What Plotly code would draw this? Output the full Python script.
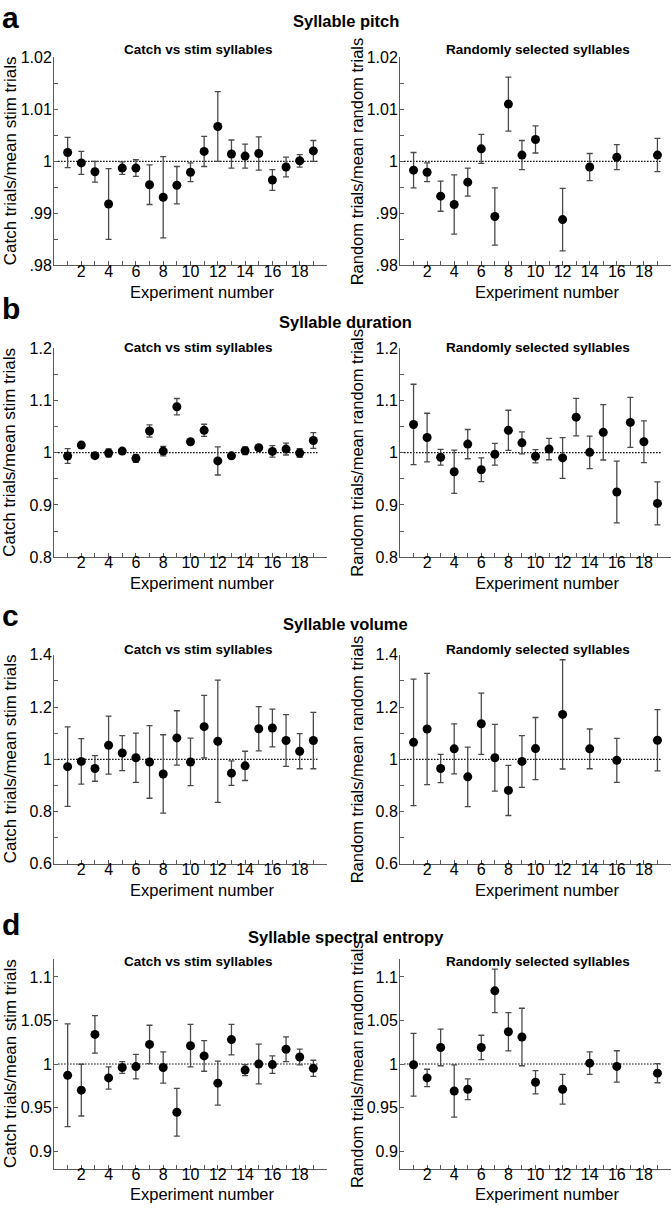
import plotly.graph_objects as go

# ---------------- data ----------------
exp_all = list(range(1, 20))
exp_sub = [1, 2, 3, 4, 5, 6, 7, 8, 9, 10, 12, 14, 16, 19]

pitch_catch_mean = [1.0017, 0.9997, 0.9980, 0.9918, 0.9987, 0.9987, 0.9955, 0.9931, 0.9954, 0.9979,
                    1.0019, 1.0067, 1.0014, 1.0010, 1.0015, 0.9964, 0.9989, 1.0001, 1.0020]
pitch_catch_err = [0.0029, 0.0022, 0.0020, 0.0068, 0.0012, 0.0016, 0.0038, 0.0078, 0.0036, 0.0018,
                   0.0029, 0.0067, 0.0027, 0.0023, 0.0032, 0.0020, 0.0019, 0.0012, 0.0020]
pitch_rand_mean = [0.9983, 0.9979, 0.9933, 0.9917, 0.9960, 1.0024, 0.9894, 1.0110, 1.0012, 1.0042,
                   0.9888, 0.9989, 1.0008, 1.0012]
pitch_rand_err = [0.0034, 0.0018, 0.0029, 0.0057, 0.0027, 0.0028, 0.0055, 0.0052, 0.0028, 0.0026,
                  0.0060, 0.0026, 0.0024, 0.0032]

duration_catch_mean = [0.9937, 1.0145, 0.9943, 0.9994, 1.0030, 0.9890, 1.0415, 1.0030, 1.0880, 1.0210,
                       1.0428, 0.9843, 0.9940, 1.0038, 1.0094, 1.0025, 1.0069, 0.9994, 1.0233]
duration_catch_err = [0.0142, 0.0045, 0.0030, 0.0080, 0.0035, 0.0075, 0.0116, 0.0090, 0.0157, 0.0040,
                      0.0116, 0.0270, 0.0047, 0.0075, 0.0030, 0.0110, 0.0113, 0.0085, 0.0150]
duration_rand_mean = [1.054, 1.029, 0.9912, 0.9635, 1.0164, 0.9673, 0.997, 1.0428, 1.0189, 0.9931,
                      1.0069, 0.990, 1.068, 1.0006, 1.039, 0.9247, 1.058, 1.021, 0.903]
duration_rand_err = [0.077, 0.0465, 0.015, 0.0415, 0.028, 0.0226, 0.0208, 0.0384, 0.021, 0.0126,
                     0.0204, 0.039, 0.036, 0.031, 0.053, 0.059, 0.048, 0.040, 0.041]

volume_catch_mean = [0.972, 0.992, 0.965, 1.054, 1.024, 1.006, 0.990, 0.944, 1.082, 0.990,
                     1.125, 1.069, 0.947, 0.975, 1.117, 1.120, 1.072, 1.031, 1.072]
volume_catch_err = [0.152, 0.087, 0.049, 0.111, 0.067, 0.094, 0.139, 0.150, 0.104, 0.091,
                    0.120, 0.234, 0.047, 0.056, 0.085, 0.072, 0.099, 0.067, 0.108]
volume_rand_mean = [1.065, 1.116, 0.965, 1.040, 0.933, 1.136, 1.006, 0.881, 0.992, 1.041,
                    1.172, 1.040, 0.996, 1.073]
volume_rand_err = [0.242, 0.213, 0.054, 0.096, 0.114, 0.117, 0.128, 0.096, 0.099, 0.119,
                   0.209, 0.076, 0.084, 0.117]

entropy_catch_mean = [0.987, 0.970, 1.034, 0.984, 0.996, 0.997, 1.0225, 0.996, 0.9446, 1.021,
                      1.0093, 0.978, 1.028, 0.993, 1.000, 0.9993, 1.017, 1.008, 0.995]
entropy_catch_err = [0.059, 0.0297, 0.0215, 0.0128, 0.0068, 0.014, 0.022, 0.018, 0.0274, 0.0244,
                     0.0176, 0.0253, 0.0176, 0.0064, 0.0229, 0.010, 0.0142, 0.009, 0.0093]
entropy_rand_mean = [0.9992, 0.984, 1.019, 0.969, 0.971, 1.019, 1.084, 1.037, 1.031, 0.979,
                     0.971, 1.001, 0.9972, 0.9895]
entropy_rand_err = [0.036, 0.010, 0.021, 0.030, 0.012, 0.014, 0.025, 0.022, 0.033, 0.0134,
                    0.017, 0.013, 0.018, 0.011]

x_tickvals = list(range(1, 20))
x_ticktext = [str(v) if v % 2 == 0 else "" for v in x_tickvals]

pitch_ticks = [0.98, 0.985, 0.99, 0.995, 1.0, 1.005, 1.01, 1.015, 1.02]
pitch_labels = [".98", "", ".99", "", "1", "", "1.01", "", "1.02"]
duration_ticks = [0.8, 0.85, 0.9, 0.95, 1.0, 1.05, 1.1, 1.15, 1.2]
duration_labels = ["0.8", "", "0.9", "", "1", "", "1.1", "", "1.2"]
volume_ticks = [0.6, 0.7, 0.8, 0.9, 1.0, 1.1, 1.2, 1.3, 1.4]
volume_labels = ["0.6", "", "0.8", "", "1", "", "1.2", "", "1.4"]
entropy_ticks = [0.9, 0.95, 1.0, 1.05, 1.1]
entropy_labels = ["0.9", "0.95", "1", "1.05", "1.1"]

row_titles = ["Syllable pitch", "Syllable duration", "Syllable volume", "Syllable spectral entropy"]
row_letters = ["a", "b", "c", "d"]
col_titles = ["Catch vs stim syllables", "Randomly selected syllables"]
y_titles = ["Catch trials/mean stim trials", "Random trials/mean random trials"]
x_title = "Experiment number"
ref_level = 1.0
ref_span = [0.3, 19.3]

# ---------------- layout geometry ----------------
W, H = 672, 1214
FONT = "Liberation Sans, Arial, Helvetica, sans-serif"
AX = "#5a5a5a"

col_px = [(54, 327), (400, 671)]
row_px = [(50, 261), (345, 557), (656, 868), (965, 1177)]
row_title_y = [13, 318, 625, 942]
row_sub_y = [42, 344, 651, 967]
row_xtitle_y = [288, 583, 895, 1203]
row_letter_y = [10, 305, 616, 930]
row_ranges = [[0.98, 1.02], [0.8, 1.2], [0.6, 1.4], [0.88, 1.12]]
row_ticks = [(pitch_ticks, pitch_labels), (duration_ticks, duration_labels),
             (volume_ticks, volume_labels), (entropy_ticks, entropy_labels)]

panels = [
    [(exp_all, pitch_catch_mean, pitch_catch_err), (exp_sub, pitch_rand_mean, pitch_rand_err)],
    [(exp_all, duration_catch_mean, duration_catch_err), (exp_all, duration_rand_mean, duration_rand_err)],
    [(exp_all, volume_catch_mean, volume_catch_err), (exp_sub, volume_rand_mean, volume_rand_err)],
    [(exp_all, entropy_catch_mean, entropy_catch_err), (exp_sub, entropy_rand_mean, entropy_rand_err)],
]

def px_x(p):
    return p / W

def px_y(p):
    return 1 - p / H

fig = go.Figure()
layout = dict(
    width=W, height=H,
    margin=dict(l=0, r=0, t=0, b=0),
    paper_bgcolor="white", plot_bgcolor="white",
    showlegend=False,
    font=dict(family=FONT, color="black"),
)
annotations = []

idx = 0
for r in range(4):
    for c in range(2):
        idx += 1
        xa = "x" if idx == 1 else f"x{idx}"
        ya = "y" if idx == 1 else f"y{idx}"
        xs, ms, es = panels[r][c]
        # reference dotted line at 1
        fig.add_trace(go.Scatter(
            x=ref_span, y=[ref_level, ref_level], mode="lines",
            line=dict(color="black", width=1.2, dash="1.5px,1.5px"),
            xaxis=xa, yaxis=ya, hoverinfo="skip"))
        fig.add_trace(go.Scatter(
            x=xs, y=ms, mode="markers",
            marker=dict(color="black", size=9),
            error_y=dict(type="data", array=es, visible=True, color="#4a4a4a",
                         thickness=1.3, width=3),
            xaxis=xa, yaxis=ya))
        x0, x1 = col_px[c]
        y0, y1 = row_px[r]
        tv, tt = row_ticks[r]
        layout["xaxis" if idx == 1 else f"xaxis{idx}"] = dict(
            domain=[px_x(x0), px_x(x1)], anchor=ya, range=[0, 20],
            tickvals=x_tickvals, ticktext=x_ticktext, ticks="inside", ticklen=4,
            tickcolor=AX, tickwidth=1, showline=True, linecolor=AX, linewidth=1,
            showgrid=False, zeroline=False, ticklabelstandoff=-9,
            tickfont=dict(size=16, family=FONT))
        layout["yaxis" if idx == 1 else f"yaxis{idx}"] = dict(
            domain=[px_y(y1), px_y(y0)], anchor=xa, range=row_ranges[r],
            tickvals=tv, ticktext=tt, ticks="inside", ticklen=4,
            tickcolor=AX, tickwidth=1, showline=True, linecolor=AX, linewidth=1,
            showgrid=False, zeroline=False, ticklabelstandoff=-2,
            tickfont=dict(size=16, family=FONT))
        # subtitle
        annotations.append(dict(
            text=f"<b>{col_titles[c]}</b>", xref="paper", yref="paper",
            x=px_x([198, 538][c]), y=px_y(row_sub_y[r]), showarrow=False,
            xanchor="center", yanchor="middle", font=dict(size=13.5, family=FONT)))
        # y-axis title
        annotations.append(dict(
            text=y_titles[c], xref="paper", yref="paper",
            x=px_x([10, 357][c]), y=px_y((y0 + y1) / 2), showarrow=False,
            textangle=-90, xanchor="center", yanchor="middle",
            font=dict(size=[17, 16.5][c], family=FONT)))
        # x-axis title
        annotations.append(dict(
            text=x_title, xref="paper", yref="paper",
            x=px_x([202, 547][c]), y=px_y(row_xtitle_y[r]), showarrow=False,
            xanchor="center", yanchor="middle", font=dict(size=16.5, family=FONT)))
    # row title and panel letter
    annotations.append(dict(
        text=f"<b>{row_titles[r]}</b>", xref="paper", yref="paper",
        x=px_x(346), y=px_y(row_title_y[r]), showarrow=False,
        xanchor="center", yanchor="middle", font=dict(size=16.5, family=FONT)))
    annotations.append(dict(
        text=f"<b>{row_letters[r]}</b>", xref="paper", yref="paper",
        x=px_x(0), y=px_y(row_letter_y[r]), showarrow=False,
        xanchor="left", yanchor="middle", font=dict(size=30, family=FONT)))

layout["annotations"] = annotations
fig.update_layout(**layout)
fig.write_html(
    "out.html",
    config={"displayModeBar": False},
    post_script=(
        "document.body.style.margin='0';document.body.style.overflow='hidden';"
        "var gd=document.getElementById('{plot_id}');"
        "gd.style.position='fixed';gd.style.top='0px';gd.style.left='0px';"
    ),
)
